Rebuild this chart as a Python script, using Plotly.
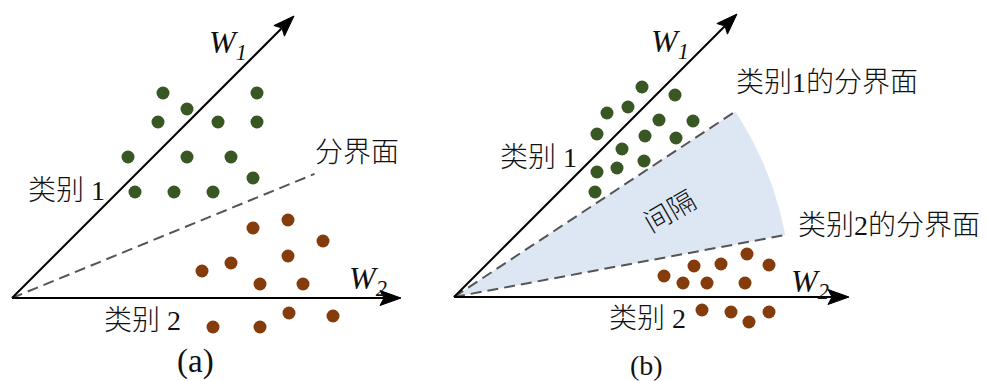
import numpy as np
import plotly.graph_objects as go

# ---------------- data (diagram coordinates, y grows downward) ----------------
# panel (a)
green_a_x = [163, 257, 187, 158, 218, 257, 128, 187, 231, 253, 135, 174, 213]
green_a_y = [93, 93, 109, 122, 122, 122, 157, 157, 157, 178, 192, 192, 192]
brown_a_x = [288, 253, 323, 288, 231, 202, 260, 303, 289, 333, 213, 260]
brown_a_y = [220, 228, 241, 256, 263, 271, 284, 284, 313, 316, 327, 327]
# panel (b)
green_b_x = [642, 675, 607, 628, 659, 693, 597, 645, 676, 622, 597, 617, 644, 595]
green_b_y = [87, 95, 113, 107, 120, 121, 134, 136, 138, 149, 172, 168, 161, 192]
brown_b_x = [664, 683, 694, 707, 721, 747, 769, 745, 702, 731, 749, 769]
brown_b_y = [276, 283, 266, 283, 264, 254, 265, 283, 310, 312, 322, 312]

# axes of each panel: origin, W1 tip, W2 tip
origin_x = [12, 454]
origin_y = [298, 297]
w1_tip_x = [294, 737]
w1_tip_y = [16, 14]
w2_tip_x = [401, 849]

# decision boundaries: (angle in degrees above W2, length)
boundary_a = [(22.3, 327)]
boundary_b = [(33.4, 337), (10.6, 337)]
margin_radius_b = 337

# text labels
axis_labels = ["<i>W</i><sub><i>1</i></sub>", "<i>W</i><sub><i>2</i></sub>"]
class_labels = ["类别 1", "类别 2"]
boundary_label_a = "分界面"
boundary_labels_b = ["类别1的分界面", "类别2的分界面"]
gap_label = "间隔"
panel_labels = ["(a)", "(b)"]

GREEN = "#385723"
BROWN = "#843C0C"
SHADE = "#DDE7F4"
DASH = "#555555"
TXT = "#111111"
FONT = "Liberation Serif, Noto Sans CJK SC"

fig = go.Figure()


def ray_end(ox, oy, ang, length):
    a = np.deg2rad(ang)
    return ox + length * np.cos(a), oy - length * np.sin(a)


# shaded margin wedge in (b)
ox, oy = origin_x[1], origin_y[1]
angs = np.linspace(boundary_b[1][0], boundary_b[0][0], 60)
wx = [ox] + [ray_end(ox, oy, a, margin_radius_b)[0] for a in angs] + [ox]
wy = [oy] + [ray_end(ox, oy, a, margin_radius_b)[1] for a in angs] + [oy]
fig.add_trace(go.Scatter(x=wx, y=wy, mode="lines", fill="toself", fillcolor=SHADE,
                         line=dict(width=0, color=SHADE), hoverinfo="skip"))

# dashed boundaries
for (pi, blist) in [(0, boundary_a), (1, boundary_b)]:
    for ang, ln in blist:
        ex, ey = ray_end(origin_x[pi], origin_y[pi], ang, ln)
        fig.add_trace(go.Scatter(x=[origin_x[pi], ex], y=[origin_y[pi], ey], mode="lines",
                                 line=dict(color=DASH, width=2, dash="11px,6px"),
                                 hoverinfo="skip"))


def arrow(ox, oy, tx, ty):
    v = np.array([tx - ox, ty - oy], dtype=float)
    L = np.hypot(*v)
    u = v / L
    n = np.array([-u[1], u[0]])
    hl, hw, notch = 21.0, 7.5, 4.0
    tip = np.array([tx, ty], dtype=float)
    base = tip - hl * u
    inner = tip - (hl - notch) * u
    fig.add_trace(go.Scatter(x=[ox, inner[0]], y=[oy, inner[1]], mode="lines",
                             line=dict(color="black", width=2), hoverinfo="skip"))
    p1 = base + hw * n
    p2 = base - hw * n
    fig.add_trace(go.Scatter(x=[tip[0], p1[0], inner[0], p2[0], tip[0]],
                             y=[tip[1], p1[1], inner[1], p2[1], tip[1]],
                             mode="lines", fill="toself", fillcolor="black",
                             line=dict(color="black", width=1), hoverinfo="skip"))


for i in range(2):
    arrow(origin_x[i], origin_y[i], w1_tip_x[i], w1_tip_y[i])
    arrow(origin_x[i], origin_y[i], w2_tip_x[i], origin_y[i])

# points
for xs, ys, c in [(green_a_x, green_a_y, GREEN), (brown_a_x, brown_a_y, BROWN),
                  (green_b_x, green_b_y, GREEN), (brown_b_x, brown_b_y, BROWN)]:
    fig.add_trace(go.Scatter(x=xs, y=ys, mode="markers",
                             marker=dict(size=13, color=c, line=dict(width=0)),
                             hoverinfo="skip"))


def label(x, y, text, size=28, angle=0):
    fig.add_annotation(x=x, y=y, text=text, showarrow=False, xanchor="center",
                       yanchor="middle", textangle=angle,
                       font=dict(family=FONT, size=size, color=TXT, weight=300))


# panel (a) texts
label(228, 44, axis_labels[0], 32)
label(368, 280, axis_labels[1], 32)
label(66, 190, class_labels[0])
label(142, 320, class_labels[1])
label(357, 152, boundary_label_a)
label(195, 361, panel_labels[0], 33)
# panel (b) texts
label(670, 43, axis_labels[0], 32)
label(810, 283, axis_labels[1], 32)
label(538, 157, class_labels[0])
label(647, 318, class_labels[1])
label(827, 82, boundary_labels_b[0])
label(889, 225, boundary_labels_b[1])
label(670, 212, gap_label, 27, -30)
label(646, 365, panel_labels[1], 28)

fig.update_layout(
    width=987, height=381, margin=dict(l=0, r=0, t=0, b=0),
    paper_bgcolor="white", plot_bgcolor="white", showlegend=False,
    xaxis=dict(range=[0, 987], visible=False, fixedrange=True),
    yaxis=dict(range=[381, 0], visible=False, fixedrange=True),
)

fig.write_html("out.html", config={"displayModeBar": False},
               post_script="document.body.style.margin='0';")
